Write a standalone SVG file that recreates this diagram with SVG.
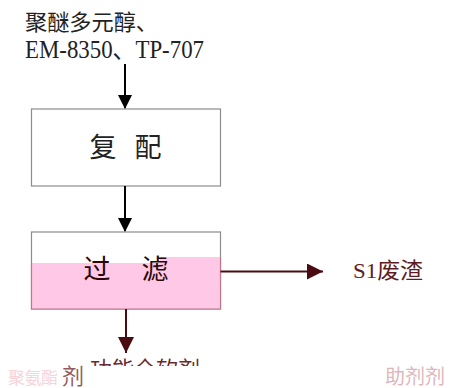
<svg xmlns="http://www.w3.org/2000/svg" width="456" height="388" viewBox="0 0 456 388">
<style>
.t{font-family:"Liberation Serif","Noto Sans CJK SC",serif;}
.box{fill:#fff;stroke:#8c8c8c;stroke-width:1.2}
.blk{stroke:#000;stroke-width:2;fill:none}
.red{stroke:#4a0c10;stroke-width:2;fill:none}
</style>
<defs>
<marker id="ab" markerWidth="14" markerHeight="14" refX="13" refY="7" orient="auto" markerUnits="userSpaceOnUse">
<path d="M0,0 L14,7 L0,14 Z" fill="#000"/>
</marker>
<marker id="ar" markerWidth="16" markerHeight="16" refX="16" refY="8" orient="auto" markerUnits="userSpaceOnUse">
<path d="M0,0 L16,8 L0,16 Z" fill="#4a0c10"/>
</marker>
<clipPath id="cb"><rect x="0" y="354" width="456" height="12"/></clipPath>
</defs>
<g id="input">
<text class="t" x="25" y="30" font-size="22" fill="#222" textLength="133" lengthAdjust="spacingAndGlyphs">聚醚多元醇、</text>
<text class="t" x="25" y="58" font-size="25" fill="#222" textLength="179" lengthAdjust="spacingAndGlyphs">EM-8350、TP-707</text>
</g>
<g id="fupei">
<rect class="box" x="31.5" y="109" width="189" height="77"/>
<text class="t" x="103" y="157" font-size="27" fill="#222" text-anchor="middle">复</text>
<text class="t" x="148" y="157" font-size="27" fill="#222" text-anchor="middle">配</text>
</g>
<g id="guolv">
<rect class="box" x="31.5" y="232" width="189" height="77"/>
<path d="M31.5,263 H160 V257 H220.5 V309 H31.5 Z" fill="#ffc8e6" stroke="none"/>
<path d="M31.5,263 V309 H220.5 V257" fill="none" stroke="#c07888" stroke-width="1.2"/>
<text class="t" x="97" y="279" font-size="27" fill="#2a0808" text-anchor="middle">过</text>
<text class="t" x="155" y="279" font-size="27" fill="#2a0808" text-anchor="middle">滤</text>
</g>
<g id="s1">
<text class="t" x="353" y="278" font-size="22" fill="#5e1c22" textLength="70" lengthAdjust="spacingAndGlyphs">S1废渣</text>
</g>
<g id="bottom">
<text class="t" x="145" y="377" font-size="22" fill="#6b2a30" text-anchor="middle" clip-path="url(#cb)">功能全软剂</text>
<text class="t" x="8" y="384" font-size="17" fill="#f2b8c0" opacity="0.6" textLength="50" lengthAdjust="spacingAndGlyphs">聚氨酯</text>
<text class="t" x="62" y="384" font-size="22" fill="#7a3038" opacity="0.8">剂</text>
<text class="t" x="385" y="384" font-size="20" fill="#c88890" opacity="0.6">助剂剂</text>
</g>
<g id="connectors">
<line class="blk" x1="125" y1="64" x2="125" y2="108" marker-end="url(#ab)"/>
<line class="blk" x1="125" y1="186" x2="125" y2="231" marker-end="url(#ab)"/>
<line class="red" x1="220.5" y1="271.5" x2="323" y2="271.5" marker-end="url(#ar)"/>
<line class="red" x1="126" y1="309" x2="126" y2="353" marker-end="url(#ar)"/>
</g>
</svg>
